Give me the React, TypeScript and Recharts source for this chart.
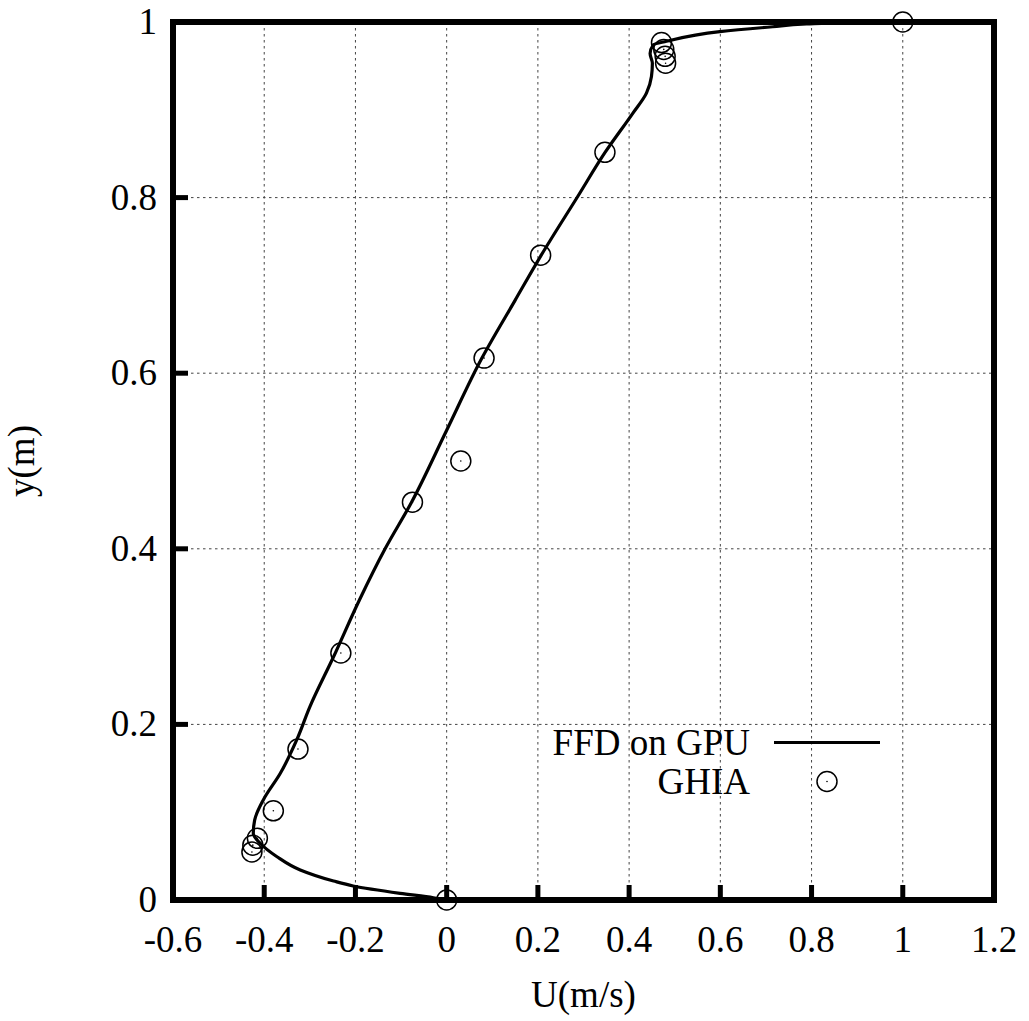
import React from 'react';
import {
  ComposedChart,
  Line,
  Scatter,
  XAxis,
  YAxis,
  CartesianGrid,
  Legend,
} from 'recharts';

// FFD on GPU profile, traced from the bottom wall up to the lid
const ffdU = [
  0, -0.029, -0.102, -0.205, -0.248, -0.321, -0.372, -0.409, -0.424, -0.421,
  -0.402, -0.365, -0.329, -0.3, -0.248, -0.191, -0.135, -0.077, 0, 0.077,
  0.15, 0.208, 0.287, 0.348, 0.408, 0.438, 0.449, 0.451, 0.446, 0.453,
  0.482, 0.599, 0.715, 0.789, 0.883, 1,
];
const ffdY = [
  0, 0.0026, 0.0076, 0.016, 0.0216, 0.0342, 0.0493, 0.0646, 0.076, 0.091,
  0.114, 0.144, 0.182, 0.22, 0.277, 0.342, 0.4, 0.453, 0.535, 0.617,
  0.683, 0.735, 0.801, 0.852, 0.896, 0.919, 0.938, 0.953, 0.964, 0.974,
  0.978, 0.989, 0.9946, 0.9977, 0.9994, 1,
];

// GHIA reference points
const ghiaU = [
  1, 0.471, 0.476, 0.479, 0.48, 0.347, 0.206, 0.082, 0.031, -0.075,
  -0.232, -0.326, -0.38, -0.415, -0.425, -0.427, 0,
];
const ghiaY = [
  1, 0.9766, 0.9688, 0.9609, 0.9531, 0.8516, 0.7344, 0.6172, 0.5, 0.4531,
  0.2813, 0.1719, 0.1016, 0.0703, 0.0625, 0.0547, 0,
];

const uTicks = [-0.6, -0.4, -0.2, 0, 0.2, 0.4, 0.6, 0.8, 1, 1.2];
const yTicks = [0, 0.2, 0.4, 0.6, 0.8, 1];

const ffdData = ffdU.map((u, i) => ({ u, y: ffdY[i] }));
const ghiaData = ghiaU.map((u, i) => ({ u, y: ghiaY[i] }));

const FONT = '"Liberation Serif", Tinos, "Times New Roman", Times, serif';
const FONT_SIZE = 37;
const TICK_LEN = 15;
const frame = { stroke: '#000', strokeWidth: 6, strokeLinecap: 'square' as const };

const BottomTick = (props: any) => {
  const { x, y, payload } = props;
  return (
    <g>
      <line x1={x} y1={y} x2={x} y2={y - TICK_LEN} stroke="#000" strokeWidth={5} />
      <text x={x} y={y + 52} textAnchor="middle" style={{ fontFamily: FONT }} fontSize={FONT_SIZE} fill="#000">
        {String(payload.value)}
      </text>
    </g>
  );
};

const LeftTick = (props: any) => {
  const { x, y, payload } = props;
  return (
    <g>
      <line x1={x} y1={y} x2={x + TICK_LEN} y2={y} stroke="#000" strokeWidth={5} />
      <text x={x - 16} y={y + 12} textAnchor="end" style={{ fontFamily: FONT }} fontSize={FONT_SIZE} fill="#000">
        {String(payload.value)}
      </text>
    </g>
  );
};

const TopTick = (props: any) => {
  const { x, y } = props;
  return <line x1={x} y1={y} x2={x} y2={y + TICK_LEN} stroke="#000" strokeWidth={5} />;
};

const RightTick = (props: any) => {
  const { x, y } = props;
  return <line x1={x} y1={y} x2={x - TICK_LEN} y2={y} stroke="#000" strokeWidth={5} />;
};

// open circle with a dot in the middle
const DotCircle = (props: any) => {
  const { cx, cy } = props;
  return (
    <g>
      <circle cx={cx} cy={cy} r={10} fill="none" stroke="#000" strokeWidth={1.5} />
      <circle cx={cx} cy={cy} r={0.8} fill="#000" />
    </g>
  );
};

const LegendBox = ({ payload }: any) => (
  <div style={{ fontFamily: FONT, fontSize: FONT_SIZE, color: '#000' }}>
    {(payload || []).map((entry: any) => (
      <div key={entry.value} style={{ display: 'flex', alignItems: 'center', height: 39 }}>
        <span style={{ width: 210, textAlign: 'right', lineHeight: '39px', whiteSpace: 'nowrap' }}>
          {entry.value}
        </span>
        <svg width={140} height={39}>
          {entry.type === 'line' ? (
            <line x1={24} y1={19.5} x2={130} y2={19.5} stroke="#000" strokeWidth={3} />
          ) : (
            <g>
              <circle cx={77} cy={19.5} r={10} fill="none" stroke="#000" strokeWidth={1.5} />
              <circle cx={77} cy={19.5} r={0.8} fill="#000" />
            </g>
          )}
        </svg>
      </div>
    ))}
  </div>
);

const XTitle = (props: any) => {
  const vb = props.viewBox;
  return (
    <text x={vb.x + vb.width / 2} y={vb.y + vb.height - 14} textAnchor="middle" style={{ fontFamily: FONT }} fontSize={FONT_SIZE} fill="#000">
      U(m/s)
    </text>
  );
};

const YTitle = (props: any) => {
  const vb = props.viewBox;
  const x = vb.x + 34;
  const y = vb.y + vb.height / 2;
  return (
    <text x={x} y={y} transform={`rotate(-90, ${x}, ${y})`} textAnchor="middle" style={{ fontFamily: FONT }} fontSize={FONT_SIZE} fill="#000">
      y(m)
    </text>
  );
};

const App = () => {
  return (
    <div style={{ position: 'absolute', left: 0, top: 0, background: '#fff' }}>
      <ComposedChart width={1029} height={1021} margin={{ top: 0, right: 0, bottom: 0, left: 0 }}>
        <CartesianGrid stroke="#444" strokeWidth={1} strokeDasharray="2.5 3.5" />
        <XAxis
          dataKey="u"
          type="number"
          domain={[-0.6, 1.2]}
          ticks={uTicks}
          height={121}
          tickSize={0}
          tickMargin={0}
          tickLine={false}
          axisLine={frame}
          tick={<BottomTick />}
          label={{ content: <XTitle /> }}
        />
        <XAxis
          xAxisId="top"
          orientation="top"
          type="number"
          domain={[-0.6, 1.2]}
          ticks={uTicks}
          height={22}
          tickSize={0}
          tickMargin={0}
          tickLine={false}
          axisLine={frame}
          tick={<TopTick />}
        />
        <YAxis
          dataKey="y"
          type="number"
          domain={[0, 1]}
          ticks={yTicks}
          width={173}
          tickSize={0}
          tickMargin={0}
          tickLine={false}
          axisLine={frame}
          tick={<LeftTick />}
          label={{ content: <YTitle /> }}
        />
        <YAxis
          yAxisId="right"
          orientation="right"
          type="number"
          domain={[0, 1]}
          ticks={yTicks}
          width={35}
          tickSize={0}
          tickMargin={0}
          tickLine={false}
          axisLine={frame}
          tick={<RightTick />}
        />
        <Legend
          layout="vertical"
          align="center"
          verticalAlign="middle"
          wrapperStyle={{ left: 540, top: 723, width: 360 }}
          content={<LegendBox />}
        />
        <Line
          name="FFD on GPU"
          data={ffdData}
          dataKey="y"
          type="monotoneY"
          stroke="#000"
          strokeWidth={3.2}
          dot={false}
          activeDot={false}
          legendType="line"
          isAnimationActive={false}
        />
        <Scatter
          name="GHIA"
          data={ghiaData}
          dataKey="y"
          shape={<DotCircle />}
          legendType="circle"
          isAnimationActive={false}
        />
      </ComposedChart>
    </div>
  );
};

export default App;
